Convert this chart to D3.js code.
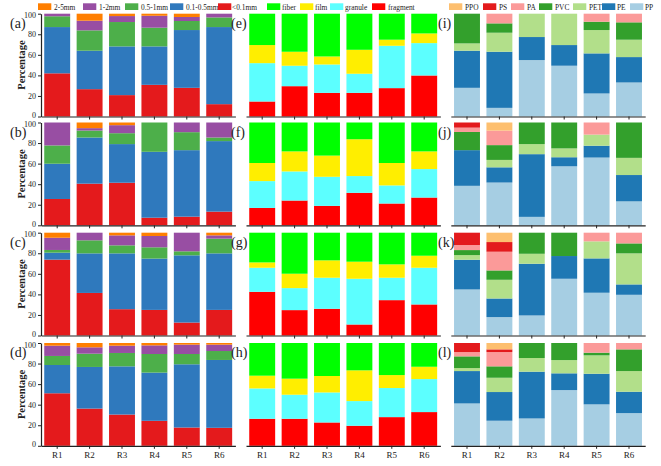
<!DOCTYPE html>
<html><head><meta charset="utf-8">
<script src="https://cdn.jsdelivr.net/npm/d3@7"></script>
<style>
body{margin:0;background:#fff}
svg{display:block}
text{font-family:"Liberation Serif","Times New Roman",serif;fill:#222}
</style>
</head><body><svg id="c" width="661" height="466"></svg>
<script>
const categories = ["R1","R2","R3","R4","R5","R6"];
const yTicks = [0,20,40,60,80,100];

// size classes, bottom -> top
const sizeKeys = ["<0.1mm","0.1-0.5mm","0.5-1mm","1-2mm","2-5mm"];
const sizeColors = ["#e41a1c","#2f79bd","#4daf4a","#984ea3","#ff7f00"];
const sizeA = [[42,45,10.5,2.5,0],[26.6,37.4,19.8,9.4,6.8],[20.8,47.4,23.7,5.8,2.3],[30.8,37.4,18.2,11.6,2],[27.9,56.2,8.8,3.9,3.2],[12,75,9.4,3.6,0]];
const sizeB = [[25.6,34.3,17.8,22.3,0],[40.5,44.9,6.8,2.3,5.5],[41.4,37.6,10.6,7.8,2.6],[7.4,64.1,28.5,0,0],[8.4,64.7,17.5,9.4,0],[13.3,68.6,3.5,14.6,0]];
const sizeC = [[73.8,6.8,2.6,11.9,4.9],[41.4,38.5,12.7,7.4,0],[25.6,54.3,7.8,9.7,2.6],[24.9,49.9,11,11,3.2],[12.6,65.4,3.9,18.1,0],[24.9,55,14.3,3.2,2.6]];
const sizeD = [[51.1,27.5,8.8,10,2.6],[36.2,40.5,12.9,6.2,4.2],[30.4,46.9,13,7.1,2.6],[24.3,46.9,18.1,8.4,2.3],[17.8,61.5,10,9.1,1.6],[17.5,66,8.7,6.2,1.6]];

// shapes, bottom -> top
const shapeKeys = ["fragment","granule","film","fiber"];
const shapeColors = ["#ff0000","#5cffff","#ffee00","#00ff00"];
const shapeE = [[14.6,37.3,17.6,30.5],[29.5,19.9,13.6,37],[23,27.6,7.8,41.6],[23,18.6,23.3,35.1],[27.6,41.2,5.9,25.3],[39.9,31.5,9.4,19.2]];
const shapeF = [[16.9,26.1,17.6,39.4],[24.1,28.3,19.5,28.1],[18.9,28.3,20.6,32.2],[31.6,16.3,35.8,16.3],[21.2,17.6,21.8,39.4],[27,27.7,17.2,28.1]];
const shapeG = [[42.5,23.4,5.2,28.9],[24.7,21.4,14,39.9],[26,30.2,16.9,26.9],[10.7,44.5,16.6,28.2],[34.4,21.8,13,30.8],[30.2,35.7,11.7,22.4]];
const shapeH = [[26.3,29.5,12.4,31.8],[26.3,23.4,15.6,34.7],[22.7,29.2,16,32.1],[19.5,24,29.9,26.6],[27.9,28.3,12.6,31.2],[32.8,32.1,12,23.1]];

// polymers, bottom -> top
const polyKeys = ["PP","PE","PET","PVC","PA","PS","PPO"];
const polyColors = ["#a6cee3","#1f78b4","#b2df8a","#33a02c","#fb9a99","#e31a1c","#fdbf6f"];
const polyI = [[27.9,36.1,7.1,28.9,0,0,0],[8.4,54.6,18.5,9.1,9.4,0,0],[54.9,22.4,22.7,0,0,0,0],[49.4,20.1,30.5,0,0,0,0],[22.4,39,22.7,8.1,7.8,0,0],[33.1,24.7,16.9,16.9,8.4,0,0]];
const polyJ = [[38.4,34.7,0,17.7,4.2,5,0],[41.6,14.8,7.2,14.4,14.1,0,7.9],[8.2,61,9.8,21,0,0,0],[57.4,8.8,8.6,25.2,0,0,0],[65.9,11.5,10.8,0,11.8,0,0],[23.3,25.6,16.7,34.4,0,0,0]];
const polyK = [[44.8,28.9,4.5,4.9,4.9,12,0],[17.9,18.1,18.2,9.1,18.2,9.4,9.1],[19.5,50.3,9.7,20.5,0,0,0],[55.2,22.1,0,22.7,0,0,0],[41.6,33.4,16.6,0,8.4,0,0],[39.6,10.1,30.2,9.7,10.4,0,0]];
const polyL = [[41.2,31.5,2.9,11.4,4.2,8.8,0],[24.4,27.9,13.9,11.1,13.9,2.6,6.2],[26.6,45.5,13.3,14.6,0,0,0],[54.2,16.3,12.9,16.6,0,0,0],[40.3,29.8,17.9,2.6,9.4,0,0],[31.8,20.8,20.1,21.1,6.2,0,0]];

const svg = d3.select("#c");
const rowTops = [13.7, 122.5, 232.7, 343];
const panelH = 102.8;

const columns = [
  {keys:sizeKeys, colors:sizeColors, panels:[sizeA,sizeB,sizeC,sizeD], labels:["(a)","(b)","(c)","(d)"], x0:41, x1:235.4, labelX:10, yAxis:true,
   legend:[[38,54],[83,99],[125,141],[170,186],[218,232]]},
  {keys:shapeKeys, colors:shapeColors, panels:[shapeE,shapeF,shapeG,shapeH], labels:["(e)","(f)","(g)","(h)"], x0:246, x1:440.4, labelX:231, yAxis:false,
   legend:[[267,282],[300,315],[330,345],[372,388]]},
  {keys:polyKeys, colors:polyColors, panels:[polyI,polyJ,polyK,polyL], labels:["(i)","(j)","(k)","(l)"], x0:450.8, x1:645.2, labelX:438, yAxis:false,
   legend:[[449,465],[483,499],[511,527],[539,555],[573,589],[602,617],[630,645]]}
];

columns.forEach(col => {
  const x = d3.scaleBand().domain(categories).range([col.x0, col.x1]).paddingInner(0.2).paddingOuter(0.1);
  const color = d3.scaleOrdinal().domain(col.keys).range(col.colors);

  // legend (reversed: top of stack first)
  const legKeys = col.keys.slice().reverse();
  const lg = svg.append("g");
  legKeys.forEach((k,i) => {
    const [sx, tx] = col.legend[i];
    lg.append("rect").attr("x", sx).attr("y", 3.3).attr("width", 13.3).attr("height", 6.7).attr("fill", color(k));
    lg.append("text").attr("x", tx).attr("y", 10).attr("font-size", 7.4).text(k);
  });

  col.panels.forEach((rows, pi) => {
    const top = rowTops[pi];
    const y = d3.scaleLinear().domain([0,100]).range([top + panelH, top]);
    const data = rows.map((r, i) => { const o = {cat: categories[i]}; col.keys.forEach((k, j) => o[k] = r[j]); return o; });
    const series = d3.stack().keys(col.keys)(data);
    const g = svg.append("g");
    g.selectAll("g.s").data(series).join("g").attr("fill", d => color(d.key))
      .selectAll("rect").data(d => d).join("rect")
      .attr("x", d => x(d.data.cat))
      .attr("width", x.bandwidth())
      .attr("y", d => y(d[1]))
      .attr("height", d => Math.max(0, y(d[0]) - y(d[1])));

    // x axis
    const xa = g.append("g").attr("transform", `translate(0,${top + panelH})`)
      .call(d3.axisBottom(x).tickSize(3).tickSizeOuter(0).tickFormat(pi === 3 ? d => d : ""));
    xa.select(".domain").attr("stroke", "#222").attr("stroke-width", 1.2);
    xa.selectAll(".tick line").attr("stroke", "#222");
    xa.selectAll("text").attr("font-size", 9).attr("dy", "0.72em").attr("fill", "#222")
      .style("font-family", '"Liberation Serif",serif');

    if (col.yAxis) {
      const ya = g.append("g").attr("transform", `translate(${col.x0},0)`)
        .call(d3.axisLeft(y).tickValues(yTicks).tickSize(3).tickSizeOuter(0).tickPadding(2));
      ya.select(".domain").attr("stroke", "#222").attr("stroke-width", 1.2);
      ya.selectAll(".tick line").attr("stroke", "#222");
      ya.selectAll("text").attr("font-size", 8).attr("fill", "#222")
        .attr("dy", d => d === 0 ? "0.1em" : d === 100 ? "0.5em" : "0.32em")
        .style("font-family", '"Liberation Serif",serif');
      g.append("text")
        .attr("transform", `translate(25,${top + panelH/2}) rotate(-90)`)
        .attr("text-anchor", "middle").attr("font-size", 10.5).attr("font-weight", "bold")
        .text("Percentage");
    }

    g.append("text").attr("x", col.labelX).attr("y", top + 14).attr("font-size", 14).text(col.labels[pi]);
  });
});
</script>
</body></html>
